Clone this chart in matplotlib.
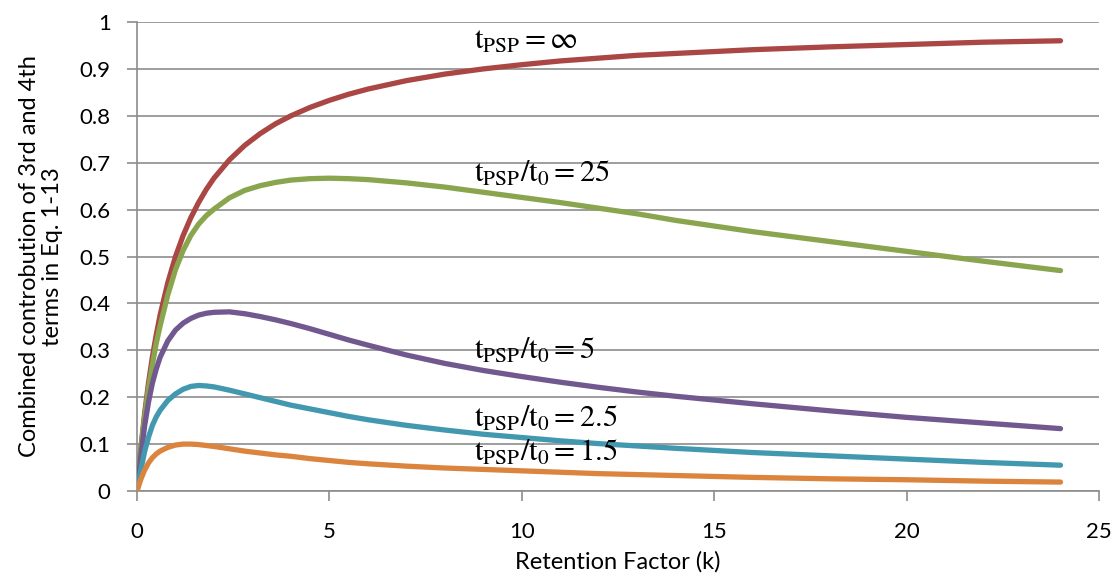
import matplotlib
matplotlib.use("Agg")
import matplotlib.pyplot as plt

# values
k = [0, 0.1, 0.2, 0.3, 0.4, 0.5, 0.6, 0.8, 1.0, 1.2, 1.4, 1.6, 1.8, 2.0, 2.4, 2.8,
     3.2, 3.6, 4.0, 4.5, 5, 5.5, 6, 7, 8, 9, 10, 11, 12, 13, 14, 16, 18, 20, 22, 24]

inf_curve = [0, .091, .167, .231, .286, .333, .375, .444, .5, .545, .583, .615, .643, .667,
             .706, .737, .762, .783, .8, .818, .833, .846, .857, .875, .889, .9, .909,
             .917, .923, .929, .933, .941, .947, .952, .957, .96]
r25 = [0, .09, .16, .22, .27, .315, .352, .418, .472, .513, .545, .569, .587, .601, .625,
       .641, .651, .658, .663, .666, .667, .666, .664, .657, .648, .637, .626, .615,
       .603, .591, .577, .553, .532, .511, .49, .47]
r5 = [0, .075, .14, .19, .23, .26, .285, .32, .343, .358, .368, .375, .379, .381, .382,
      .378, .372, .365, .357, .346, .334, .322, .311, .29, .272, .257, .244, .232, .221,
      .211, .202, .186, .171, .157, .145, .133]
r2_5 = [0, .045, .085, .115, .14, .158, .172, .193, .207, .217, .223, .225, .224, .222,
        .215, .207, .199, .191, .183, .175, .167, .159, .152, .14, .13, .121, .114, .107,
        .101, .096, .091, .082, .075, .068, .061, .055]
r1_5 = [0, .025, .045, .06, .071, .079, .085, .093, .098, .1, .1, .099, .097, .095, .09,
        .085, .081, .077, .074, .069, .065, .061, .058, .053, .049, .046, .043, .04,
        .037, .035, .033, .029, .026, .024, .021, .019]

series = [
    (inf_curve, '#AA4643', r'$\mathrm{t_{PSP} = \infty}$', 8.75, 0.96),
    (r25, '#89A54E', r'$\mathrm{t_{PSP}/t_0 = 25}$', 8.75, 0.678),
    (r5, '#71588F', r'$\mathrm{t_{PSP}/t_0 = 5}$', 8.75, 0.30),
    (r2_5, '#4198AF', r'$\mathrm{t_{PSP}/t_0 = 2.5}$', 8.75, 0.155),
    (r1_5, '#DB843D', r'$\mathrm{t_{PSP}/t_0 = 1.5}$', 8.75, 0.083),
]

plt.rcParams['mathtext.fontset'] = 'stix'
plt.rcParams['font.family'] = ['Lato', 'DejaVu Sans']

fig = plt.figure(figsize=(11.13, 5.75), dpi=100)
ax = fig.add_axes([0.1231, 0.1461, 0.8643, 0.8156])

for y, color, label, tx, ty in series:
    ax.plot(k, y, color=color, lw=3.8, solid_capstyle='round',
            solid_joinstyle='round', zorder=3)
    ax.text(tx, ty, label, fontsize=22, va='center', ha='left', zorder=4)

ax.set_xlim(0, 25)
ax.set_ylim(0, 1)
ax.set_xticks([0, 5, 10, 15, 20, 25])
ax.set_yticks([i / 10 for i in range(11)])
ax.set_yticklabels(['0', '0.1', '0.2', '0.3', '0.4', '0.5', '0.6', '0.7', '0.8', '0.9', '1'])

ax.grid(axis='y', color='#8c8c8c', lw=1.2, zorder=1)
for s in ['top', 'right']:
    ax.spines[s].set_visible(False)
for s in ['left', 'bottom']:
    ax.spines[s].set_color('#8c8c8c')
    ax.spines[s].set_linewidth(1.2)
ax.tick_params(axis='y', length=7, width=1.2, color='#8c8c8c', pad=12, labelsize=16)
ax.tick_params(axis='x', length=7, width=1.2, color='#8c8c8c', pad=15, labelsize=16)

ax.set_xlabel('Retention Factor (k)', fontsize=17, labelpad=7)
ax.set_ylabel('Combined controbution of 3rd and 4th\nterms in Eq. 1-13', fontsize=17,
              labelpad=12, linespacing=1.1)

fig.savefig('out.png', dpi=100)
